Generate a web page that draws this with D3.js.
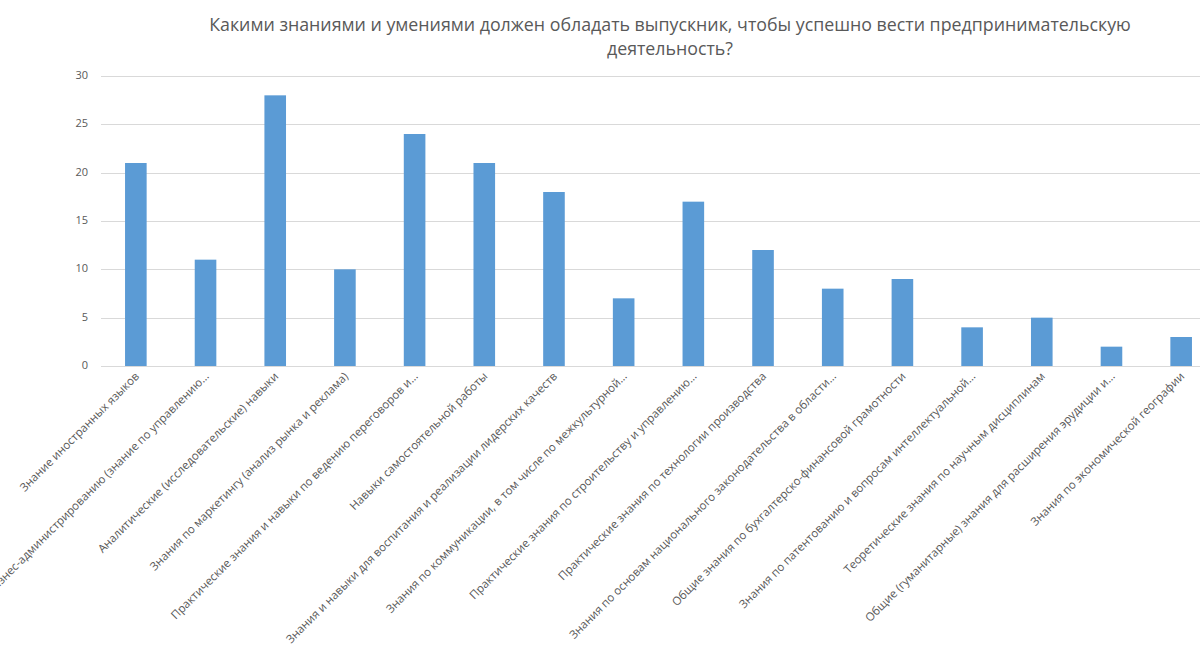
<!DOCTYPE html>
<html>
<head>
<meta charset="utf-8">
<script src="https://cdn.jsdelivr.net/npm/d3@7"></script>
<style>
    body { margin: 0; background: #fff; overflow: hidden; }
    svg { display: block; font-family: "Open Sans", "Noto Sans", sans-serif; }
</style>
</head>
<body>
<div id="chart"></div>
<script>
const categories = [
    'Знание иностранных языков',
    'Знания по бизнес-администрированию (знание по управлению…',
    'Аналитические (исследовательские) навыки',
    'Знания по маркетингу (анализ рынка и реклама)',
    'Практические знания и навыки по ведению переговоров и…',
    'Навыки самостоятельной работы',
    'Знания и навыки для воспитания и реализации лидерских качеств',
    'Знания по коммуникации, в том числе по межкультурной…',
    'Практические знания по строительству и управлению…',
    'Практические знания по технологии производства',
    'Знания по основам национального законодательства в области…',
    'Общие знания по бухгалтерско-финансовой грамотности',
    'Знания по патентованию и вопросам интеллектуальной…',
    'Теоретические знания по научным дисциплинам',
    'Общие (гуманитарные) знания для расширения эрудиции и…',
    'Знания по экономической географии'
];
const values = [21, 11, 28, 10, 24, 21, 18, 7, 17, 12, 8, 9, 4, 5, 2, 3];
const yTicks = [0, 5, 10, 15, 20, 25, 30];
const titleLines = [
    'Какими знаниями и умениями должен обладать выпускник, чтобы успешно вести предпринимательскую',
    'деятельность?'
];

const W = 1200, H = 646;
const margin = { top: 76, left: 101, bottom: 280 };
const plotRight = 1216;

const svg = d3.select('#chart').append('svg')
    .attr('width', W)
    .attr('height', H);

const x = d3.scaleBand()
    .domain(categories)
    .range([margin.left, plotRight])
    .paddingInner(0.69)
    .paddingOuter(0.345);

const y = d3.scaleLinear()
    .domain([0, 30])
    .range([H - margin.bottom, margin.top]);

// линии сетки
svg.append('g')
    .selectAll('line')
    .data(yTicks)
    .join('line')
    .attr('x1', margin.left)
    .attr('x2', W)
    .attr('y1', d => Math.round(y(d)) + 0.5)
    .attr('y2', d => Math.round(y(d)) + 0.5)
    .attr('stroke', '#d9d9d9')
    .attr('stroke-width', 1);

svg.append('g')
    .selectAll('text')
    .data(yTicks)
    .join('text')
    .attr('x', 88)
    .attr('y', d => y(d))
    .attr('text-anchor', 'end')
    .attr('dominant-baseline', 'middle')
    .attr('font-size', 11)
    .attr('fill', '#595959')
    .text(d => d);

svg.append('g')
    .selectAll('rect')
    .data(values)
    .join('rect')
    .attr('x', (d, i) => x(categories[i]))
    .attr('width', x.bandwidth())
    .attr('y', d => y(d))
    .attr('height', d => y(0) - y(d))
    .attr('fill', '#5b9bd5');

// подписи категорий
svg.append('g')
    .selectAll('text')
    .data(categories)
    .join('text')
    .attr('transform', d => `translate(${x(d) + x.bandwidth() / 2 + 4},${y(0) + 11}) rotate(-45)`)
    .attr('text-anchor', 'end')
    .attr('font-size', 11.5)
    .attr('fill', '#595959')
    .text(d => d);

svg.append('g')
    .selectAll('text')
    .data(titleLines)
    .join('text')
    .attr('x', 670)
    .attr('y', (d, i) => 31 + i * 24)
    .attr('text-anchor', 'middle')
    .attr('font-size', 17.8)
    .attr('fill', '#595959')
    .text(d => d);
</script>
</body>
</html>
